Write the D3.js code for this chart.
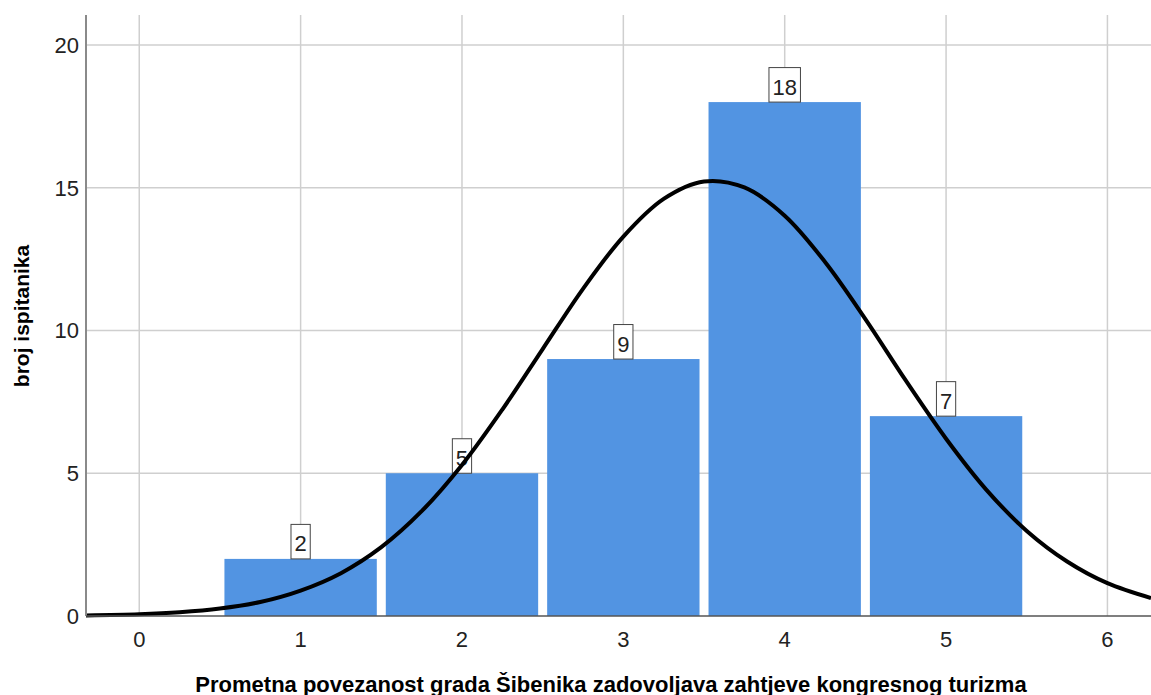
<!DOCTYPE html>
<html>
<head>
<meta charset="utf-8">
<script src="https://cdn.jsdelivr.net/npm/d3@7"></script>
<style>
  html, body { margin: 0; padding: 0; background: #fff; }
  svg { display: block; }
  text { font-family: "Liberation Sans", Arial, sans-serif; }
</style>
</head>
<body>
<div id="chart"></div>
<script>
// histogram data
const categories = [1, 2, 3, 4, 5];
const counts = [2, 5, 9, 18, 7];

// tick labels
const xTicks = [0, 1, 2, 3, 4, 5, 6];
const yTicks = [0, 5, 10, 15, 20];

// normal curve
const curveX = [-0.33, 0, 0.25, 0.5, 0.75, 1, 1.25, 1.5, 1.75, 2, 2.25, 2.5, 2.75, 3, 3.25, 3.5,
    3.75, 4, 4.25, 4.5, 4.75, 5, 5.25, 5.5, 5.75, 6, 6.27];
const curveY = [0.02, 0.06, 0.13, 0.26, 0.49, 0.89, 1.50, 2.41, 3.67, 5.29, 7.23, 9.35, 11.46, 13.29, 14.61, 15.22,
    15.01, 14.02, 12.40, 10.40, 8.25, 6.21, 4.42, 2.98, 1.91, 1.15, 0.63];

const xLabel = 'Prometna povezanost grada Šibenika zadovoljava zahtjeve kongresnog turizma';
const yLabel = 'broj ispitanika';

const width = 1151, height = 695;
const plot = { left: 86, right: 1151, top: 15, bottom: 616 };

const svg = d3.select('#chart').append('svg')
    .attr('width', width)
    .attr('height', height);

const x = d3.scaleLinear().domain([-0.33, 6.27]).range([plot.left, plot.right]);
const y = d3.scaleLinear().domain([0, 21.05]).range([plot.bottom, plot.top]);

// grid
const grid = svg.append('g');
grid.selectAll('.vgrid').data(xTicks).enter().append('line')
    .attr('x1', d => x(d)).attr('x2', d => x(d))
    .attr('y1', plot.top).attr('y2', plot.bottom)
    .attr('stroke', '#cfcfcf').attr('stroke-width', 1.5);
grid.selectAll('.hgrid').data(yTicks.slice(1)).enter().append('line')
    .attr('x1', plot.left).attr('x2', plot.right)
    .attr('y1', d => y(d)).attr('y2', d => y(d))
    .attr('stroke', '#cfcfcf').attr('stroke-width', 1.5);

// bars
const inset = 4.5;
svg.append('g').selectAll('rect').data(categories).enter().append('rect')
    .attr('x', d => x(d - 0.5) + inset)
    .attr('width', d => x(d + 0.5) - x(d - 0.5) - 2 * inset)
    .attr('y', (d, i) => y(counts[i]))
    .attr('height', (d, i) => y(0) - y(counts[i]))
    .attr('fill', '#5294e2');

// value labels
const labels = svg.append('g').selectAll('g').data(categories).enter().append('g');
labels.append('text')
    .attr('x', d => x(d))
    .attr('y', (d, i) => y(counts[i]) - 7.5)
    .attr('text-anchor', 'middle')
    .attr('font-size', 22)
    .attr('fill', '#222')
    .text((d, i) => counts[i]);
labels.each(function(d, i) {
    const g = d3.select(this);
    const w = g.select('text').node().getComputedTextLength() + 7;
    g.insert('rect', 'text')
        .attr('x', x(d) - w / 2)
        .attr('y', y(counts[i]) - 34.5)
        .attr('width', w)
        .attr('height', 34.5)
        .attr('fill', '#fff')
        .attr('stroke', '#444')
        .attr('stroke-width', 1);
});

// normal curve
const line = d3.line()
    .x((d, i) => x(curveX[i]))
    .y(d => y(d))
    .curve(d3.curveCatmullRom);
svg.append('path')
    .attr('d', line(curveY))
    .attr('fill', 'none')
    .attr('stroke', '#000')
    .attr('stroke-width', 4);

// axes lines
svg.append('line')
    .attr('x1', plot.left).attr('x2', plot.left)
    .attr('y1', plot.top).attr('y2', plot.bottom)
    .attr('stroke', '#8a8a8a').attr('stroke-width', 2);
svg.append('line')
    .attr('x1', plot.left).attr('x2', plot.right)
    .attr('y1', plot.bottom).attr('y2', plot.bottom)
    .attr('stroke', '#555').attr('stroke-width', 1.5);

// tick labels
svg.append('g').selectAll('text').data(yTicks).enter().append('text')
    .attr('x', 79)
    .attr('y', d => y(d) + 8)
    .attr('text-anchor', 'end')
    .attr('font-size', 22)
    .attr('fill', '#222')
    .text(d => d);
svg.append('g').selectAll('text').data(xTicks).enter().append('text')
    .attr('x', d => x(d))
    .attr('y', 647)
    .attr('text-anchor', 'middle')
    .attr('font-size', 22)
    .attr('fill', '#222')
    .text(d => d);

// axis titles
svg.append('text')
    .attr('x', 611)
    .attr('y', 691.5)
    .attr('text-anchor', 'middle')
    .attr('font-size', 22)
    .attr('font-weight', 'bold')
    .attr('fill', '#000')
    .text(xLabel);
svg.append('text')
    .attr('transform', 'translate(29,316) rotate(-90)')
    .attr('text-anchor', 'middle')
    .attr('font-size', 21)
    .attr('font-weight', 'bold')
    .attr('fill', '#000')
    .text(yLabel);
</script>
</body>
</html>
